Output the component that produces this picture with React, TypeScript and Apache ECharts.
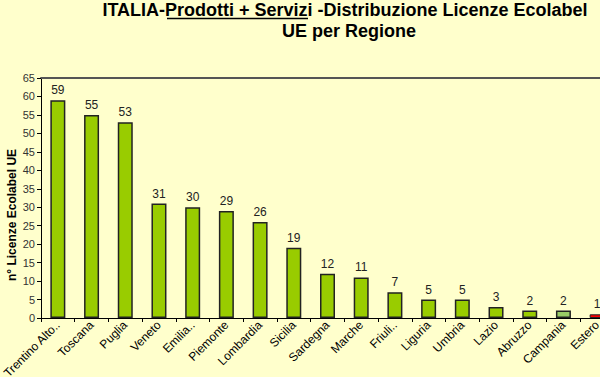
import React, { useEffect, useRef } from "react";
import * as echarts from "echarts";

const categories = [
  "Trentino Alto..", "Toscana", "Puglia", "Veneto", "Emilia..", "Piemonte",
  "Lombardia", "Sicilia", "Sardegna", "Marche", "Friuli..", "Liguria",
  "Umbria", "Lazio", "Abruzzo", "Campania", "Estero",
];
const values = [59, 55, 53, 31, 30, 29, 26, 19, 12, 11, 7, 5, 5, 3, 2, 2, 1];
const barColors = [
  "#99CC00", "#99CC00", "#99CC00", "#99CC00", "#99CC00", "#99CC00",
  "#99CC00", "#99CC00", "#99CC00", "#99CC00", "#99CC00", "#99CC00",
  "#99CC00", "#99CC00", "#99CC00", "#99CC66", "#FF0000",
];
const yTicks = { min: 0, max: 65, interval: 5 };
const titleLine1 = "ITALIA-Prodotti + Servizi -Distribuzione Licenze Ecolabel";
const titleLine2 = "UE per Regione";
const yName = "n° Licenze Ecolabel UE";

export default function App() {
  const ref = useRef<HTMLDivElement>(null);
  useEffect(() => {
    if (!ref.current) return;
    const chart = echarts.init(ref.current, null, { renderer: "svg" });
    const font = "Liberation Sans, Arial, sans-serif";
    const titleStyle = {
      font: `bold 18px ${font}`,
      fill: "#000",
      align: "center",
      verticalAlign: "middle",
      shadowColor: "rgba(0,0,0,0.3)",
      shadowOffsetX: 1,
      shadowOffsetY: 1,
    };
    chart.setOption({
      animation: false,
      backgroundColor: "#FFFFCC",
      textStyle: { fontFamily: font },
      graphic: [
        { type: "text", x: 345, y: 10, style: { ...titleStyle, text: titleLine1 } },
        { type: "text", x: 349, y: 31, style: { ...titleStyle, text: titleLine2 } },
        {
          type: "line",
          shape: { x1: 167, y1: 18.5, x2: 308, y2: 18.5 },
          style: { stroke: "#000", lineWidth: 1.5 },
        },
        {
          type: "text",
          x: 12,
          y: 215,
          rotation: Math.PI / 2,
          style: {
            text: yName,
            font: `bold 12px ${font}`,
            fill: "#000",
            align: "center",
            verticalAlign: "middle",
          },
        },
      ],
      grid: { left: 41, top: 78, width: 573, height: 240, outerBoundsMode: "none", containLabel: false },
      xAxis: [
        {
          type: "category",
          data: categories,
          axisLine: { lineStyle: { color: "#000", width: 1 } },
          axisTick: { show: true, length: 4, lineStyle: { color: "#000" } },
          axisLabel: {
            interval: 0,
            rotate: 45,
            fontSize: 12,
            color: "#000",
            margin: 5,
            fontFamily: font,
          },
        },
        {
          type: "category",
          position: "top",
          data: categories,
          axisLine: { show: true, lineStyle: { color: "#555", width: 2 } },
          axisTick: { show: false },
          axisLabel: { show: false },
        },
      ],
      yAxis: {
        type: "value",
        min: yTicks.min,
        max: yTicks.max,
        interval: yTicks.interval,
        axisLine: { show: true, lineStyle: { color: "#000" } },
        axisTick: { show: true, length: 4, lineStyle: { color: "#000" } },
        axisLabel: { fontSize: 11, color: "#333", margin: 6, fontFamily: font },
        splitLine: { show: false },
      },
      series: [
        {
          type: "bar",
          barWidth: 15,
          data: values.map((v, i) => ({
            value: v,
            itemStyle: { color: barColors[i], borderWidth: v < 2 ? 1 : 1.5 },
          })),
          itemStyle: { borderColor: "#222", borderWidth: 1.5 },
          label: {
            show: true,
            position: "top",
            distance: 4,
            fontSize: 12,
            color: "#222",
            fontFamily: font,
          },
        },
      ],
    });
    return () => chart.dispose();
  }, []);
  return (
    <div
      ref={ref}
      style={{ width: 600, height: 377, position: "fixed", left: 0, top: 0 }}
    />
  );
}
